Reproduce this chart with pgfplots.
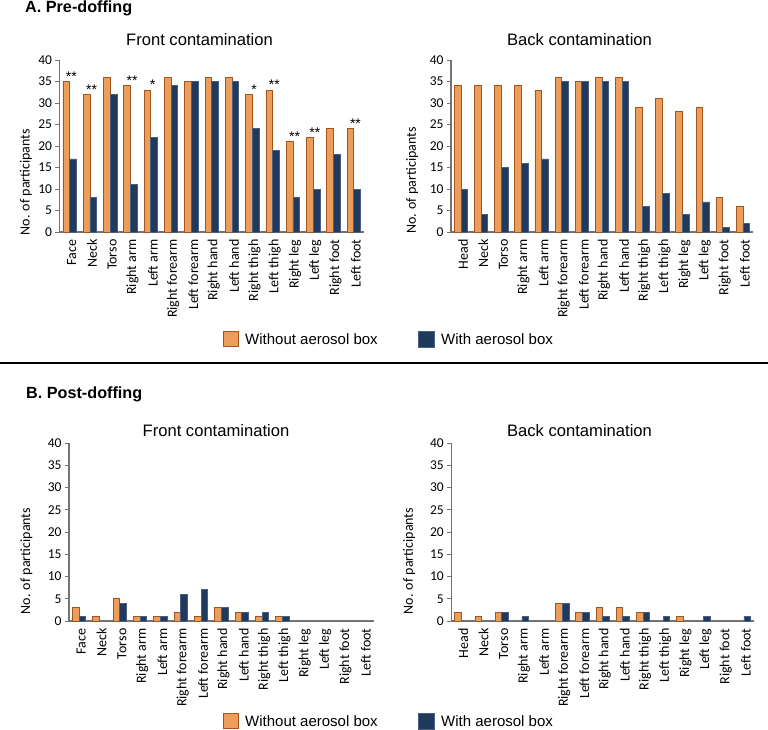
\documentclass[border=0pt]{standalone}
\usepackage{fontspec}
\setmainfont{Liberation Sans}
\newfontfamily\carlito{Carlito}
\usepackage{pgfplots}
\pgfplotsset{compat=1.18}
\definecolor{orfill}{HTML}{EC9D5A}
\definecolor{ordraw}{HTML}{A0561E}
\definecolor{blfill}{HTML}{203A5E}
\definecolor{bldraw}{HTML}{4A5F80}
\pgfplotsset{
 body/.style={
  scale only axis, ybar, bar width=0.33,
  xmin=-0.5,xmax=14.5,ymin=0,ymax=40,
  axis x line*=bottom, axis y line*=left,
  axis line style={draw=black!55, line width=1.2pt},
  ytick={0,5,...,40}, xtick={0,...,14},
  /pgf/number format/assume math mode=true,
  yticklabel style={font=\carlito\fontsize{13.5}{13.5}\selectfont},
  xticklabel style={font=\carlito\fontsize{14}{14}\selectfont, rotate=90, anchor=east, yshift=-2pt},
  x tick style={draw=none},
  y tick style={draw=black!55, line width=0.8pt},
  tick align=outside, major tick length=4pt,
  ylabel={No. of participants},
  clip=false,
 },
 ylab/.style 2 args={ylabel style={font=\carlito\fontsize{14}{14}\selectfont, at={(axis description cs:#1,#2)}, anchor=center}},
 orbar/.style={fill=orfill, draw=ordraw, line width=0.8pt, bar shift=-0.165},
 blbar/.style={fill=blfill, draw=bldraw, line width=0.8pt, bar shift=0.165},
 frontlabels/.style={xticklabels={Face,Neck,Torso,Right arm,Left arm,Right forearm,Left forearm,Right hand,Left hand,Right thigh,Left thigh,Right leg,Left leg,Right foot,Left foot}},
 backlabels/.style={xticklabels={Head,Neck,Torso,Right arm,Left arm,Right forearm,Left forearm,Right hand,Left hand,Right thigh,Left thigh,Right leg,Left leg,Right foot,Left foot}},
}
\begin{document}
\begin{tikzpicture}
\useasboundingbox (0pt,0pt) rectangle (768pt,-730pt);
% Panel headings
\node[anchor=base west, inner sep=0pt, font=\bfseries\fontsize{16.2}{16.2}\selectfont] at (25pt,-13pt) {A. Pre-doffing};
\node[anchor=base west, inner sep=0pt, font=\bfseries\fontsize{16.2}{16.2}\selectfont] at (26pt,-398pt) {B. Post-doffing};
\draw[line width=1.5pt] (0pt,-363pt) -- (768pt,-363pt);
% Subplot titles
\node[anchor=base, inner sep=0pt, font=\fontsize{16.6}{16.6}\selectfont] at (199.5pt,-46pt) {Front contamination};
\node[anchor=base, inner sep=0pt, font=\fontsize{16.6}{16.6}\selectfont] at (579.5pt,-46pt) {Back contamination};
\node[anchor=base, inner sep=0pt, font=\fontsize{16.6}{16.6}\selectfont] at (216pt,-436pt) {Front contamination};
\node[anchor=base, inner sep=0pt, font=\fontsize{16.6}{16.6}\selectfont] at (579.5pt,-436pt) {Back contamination};

% A front
\begin{axis}[body, frontlabels, ylab={-0.11}{0.29}, at={(59.5pt,-232pt)}, anchor=south west, width=304.5pt, height=172pt]
\addplot[orbar] coordinates {(0,35)(1,32)(2,36)(3,34)(4,33)(5,36)(6,35)(7,36)(8,36)(9,32)(10,33)(11,21)(12,22)(13,24)(14,24)};
\addplot[blbar] coordinates {(0,17)(1,8)(2,32)(3,11)(4,22)(5,34)(6,35)(7,35)(8,35)(9,24)(10,19)(11,8)(12,10)(13,18)(14,10)};
\addplot[forget plot, draw=none, fill=none, bar shift=0.08, nodes near coords, point meta=explicit symbolic,
  every node near coord/.append style={inner sep=0pt, font=\fontsize{14}{14}\selectfont}]
  coordinates {(0,35)[**] (1,32)[**] (3,34)[**] (4,33)[*] (9,32)[*] (10,33)[**] (11,21)[**] (12,22)[**] (14,24)[**]};
\end{axis}

% A back
\begin{axis}[body, backlabels, ylab={-0.129}{0.3}, at={(451pt,-232pt)}, anchor=south west, width=302pt, height=172pt]
\addplot[orbar] coordinates {(0,34)(1,34)(2,34)(3,34)(4,33)(5,36)(6,35)(7,36)(8,36)(9,29)(10,31)(11,28)(12,29)(13,8)(14,6)};
\addplot[blbar] coordinates {(0,10)(1,4)(2,15)(3,16)(4,17)(5,35)(6,35)(7,35)(8,35)(9,6)(10,9)(11,4)(12,7)(13,1)(14,2)};
\end{axis}

% B front
\begin{axis}[body, frontlabels, ylab={-0.14}{0.337}, at={(69pt,-621pt)}, anchor=south west, width=305pt, height=178pt]
\addplot[orbar] coordinates {(0,3)(1,1)(2,5)(3,1)(4,1)(5,2)(6,1)(7,3)(8,2)(9,1)(10,1)};
\addplot[blbar] coordinates {(0,1)(2,4)(3,1)(4,1)(5,6)(6,7)(7,3)(8,2)(9,2)(10,1)};
\end{axis}

% B back
\begin{axis}[body, backlabels, ylab={-0.139}{0.337}, at={(451.3pt,-621pt)}, anchor=south west, width=302.7pt, height=178pt]
\addplot[orbar] coordinates {(0,2)(1,1)(2,2)(5,4)(6,2)(7,3)(8,3)(9,2)(11,1)};
\addplot[blbar] coordinates {(2,2)(3,1)(5,4)(6,2)(7,1)(8,1)(9,2)(10,1)(12,1)(14,1)};
\end{axis}

% Legends
\foreach \yc in {339,721}{
  \draw[fill=orfill, draw=ordraw, line width=1.8pt] (223.5pt,-\yc pt+7.5pt) rectangle (238.5pt,-\yc pt-7.5pt);
  \node[anchor=west, inner sep=0pt, font=\fontsize{15}{15}\selectfont] at (245pt,-\yc pt) {Without aerosol box};
  \draw[fill=blfill, draw=bldraw, line width=0.8pt] (418.5pt,-\yc pt+8pt) rectangle (434.5pt,-\yc pt-8pt);
  \node[anchor=west, inner sep=0pt, font=\fontsize{15}{15}\selectfont] at (441pt,-\yc pt) {With aerosol box};
}
\end{tikzpicture}
\end{document}
